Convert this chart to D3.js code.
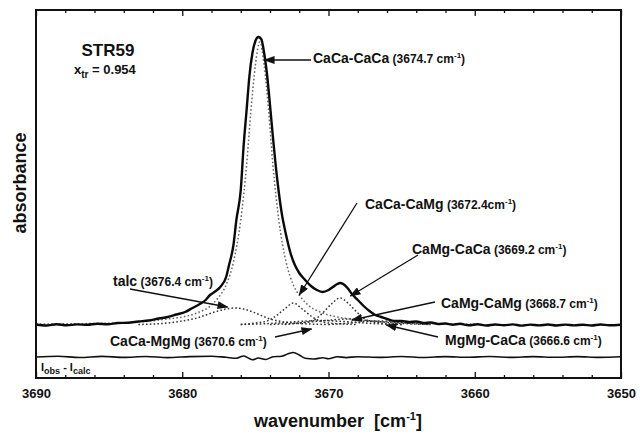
<!DOCTYPE html>
<html>
<head>
<meta charset="utf-8">
<script src="https://cdn.jsdelivr.net/npm/d3@7"></script>
<style>
  html, body { margin: 0; padding: 0; background: #fff; }
  svg { display: block; }
  text { font-family: "Liberation Sans", Arial, Helvetica, sans-serif; font-weight: bold; fill: #111; }
</style>
</head>
<body>
<svg id="chart" width="640" height="434"></svg>
<script>
// ---- data ---------------------------------------------------------------
const majorTicks = [3690, 3680, 3670, 3660, 3650];
const minorTicks = [3688, 3686, 3684, 3682, 3678, 3676, 3674, 3672, 3668, 3666, 3664, 3662, 3658, 3656, 3654, 3652];

const sampleName = "STR59";
const xTremolite = "0.954";

// observed OH-stretching spectrum [wavenumber, absorbance]
const observed = [
  [3690, 0.0005], [3689.3, -0.0005], [3688.6, 0.0008], [3687.9, -0.0003], [3687.2, 0.0006],
  [3686.5, 0.0002], [3685.8, 0.0012], [3685.1, 0.0008], [3684.4, 0.002], [3683.7, 0.0022],
  [3683, 0.0035], [3682.3, 0.0045], [3681.6, 0.0065], [3681, 0.008], [3680.4, 0.0105],
  [3679.8, 0.013], [3679.3, 0.017], [3678.8, 0.021], [3678.4, 0.025], [3678.1, 0.030],
  [3677.8, 0.033], [3677.4, 0.038], [3677, 0.048], [3676.8, 0.060], [3676.5, 0.080],
  [3676.3, 0.105], [3676, 0.135], [3675.8, 0.180], [3675.6, 0.215], [3675.4, 0.250],
  [3675.2, 0.272], [3675, 0.284], [3674.8, 0.288], [3674.6, 0.286], [3674.4, 0.272],
  [3674.2, 0.250], [3674, 0.220], [3673.8, 0.188], [3673.5, 0.145], [3673.2, 0.112],
  [3672.9, 0.090], [3672.6, 0.072], [3672.3, 0.060], [3672, 0.052], [3671.6, 0.045],
  [3671.2, 0.039], [3670.8, 0.035], [3670.4, 0.033], [3670, 0.035], [3669.7, 0.038],
  [3669.4, 0.041], [3669.2, 0.042], [3669, 0.041], [3668.7, 0.037], [3668.4, 0.031],
  [3668, 0.025], [3667.6, 0.019], [3667.2, 0.014], [3666.8, 0.010], [3666.4, 0.008],
  [3666, 0.006], [3665.5, 0.004], [3665, 0.004], [3664.5, 0.003], [3664, 0.0035],
  [3663.5, 0.002], [3663, 0.0025], [3662.5, 0.001], [3662, 0.0015], [3661.5, 0.0003],
  [3661, 0.0012], [3660.4, -0.0003], [3659.8, 0.0008], [3659.2, -0.0005], [3658.6, 0.0005],
  [3658, -0.0003], [3657.4, 0.0006], [3656.8, -0.0006], [3656.2, 0.0004], [3655.6, -0.0004],
  [3655, 0.0005], [3654.4, -0.0005], [3653.8, 0.0004], [3653.2, -0.0004], [3652.6, 0.0003],
  [3652, -0.0005], [3651.4, 0.0005], [3650.8, -0.0003], [3650, 0.0003]
];

// fitted component bands
const bandNames   = ["CaCa-CaCa", "talc", "CaCa-CaMg", "CaMg-CaCa", "CaMg-CaMg", "CaCa-MgMg", "MgMg-CaCa"];
const bandCenters = [3674.7, 3676.4, 3672.4, 3669.2, 3668.7, 3670.6, 3666.6];

const bandCaCaCaCa = [
  [3690, 0.001], [3686, 0.0015], [3683, 0.003], [3681, 0.006], [3680, 0.008], [3679, 0.012],
  [3678, 0.020], [3677.5, 0.028], [3677, 0.040], [3676.5, 0.063], [3676, 0.105], [3675.6, 0.160],
  [3675.3, 0.215], [3675, 0.260], [3674.7, 0.283], [3674.4, 0.260], [3674.1, 0.215], [3673.8, 0.160],
  [3673.4, 0.105], [3672.9, 0.063], [3672.4, 0.040], [3671.9, 0.028], [3671.4, 0.020], [3670.4, 0.012],
  [3669.4, 0.008], [3668, 0.005], [3666, 0.003], [3663, 0.0015], [3660, 0.001]
];
const bandTalc = [
  [3683, 0.0005], [3682, 0.001], [3681, 0.002], [3680, 0.004], [3679, 0.007], [3678, 0.012],
  [3677, 0.016], [3676.4, 0.017], [3675.8, 0.016], [3675, 0.012], [3674, 0.006], [3673, 0.003],
  [3672, 0.0015], [3670, 0.0005]
];
const bandCaCaCaMg = [
  [3676, 0.0005], [3675, 0.002], [3674.2, 0.004], [3673.6, 0.009], [3673, 0.016], [3672.4, 0.022],
  [3671.8, 0.016], [3671.2, 0.009], [3670.6, 0.004], [3670, 0.002], [3668, 0.0005]
];
const bandCaMgCaCa = [
  [3673, 0.0005], [3672, 0.002], [3671, 0.005], [3670.4, 0.012], [3669.8, 0.021], [3669.2, 0.027],
  [3668.6, 0.021], [3668, 0.012], [3667.4, 0.005], [3666.4, 0.002], [3665, 0.0005]
];
const bandCaMgCaMg = [
  [3674, 0.0005], [3672, 0.002], [3670.5, 0.004], [3668.7, 0.006], [3667, 0.004], [3665.5, 0.002], [3663, 0.0005]
];
const bandCaCaMgMg = [
  [3676, 0.0005], [3674, 0.0015], [3672, 0.0035], [3670.6, 0.0045], [3669, 0.0035], [3667, 0.0015], [3665, 0.0005]
];
const bandMgMgCaCa = [
  [3670, 0.0005], [3668.5, 0.002], [3667.5, 0.0035], [3666.6, 0.004], [3665.7, 0.0035], [3664.7, 0.002], [3663, 0.0005]
];
const bandCurves = [bandCaCaCaCa, bandTalc, bandCaCaCaMg, bandCaMgCaCa, bandCaMgCaMg, bandCaCaMgMg, bandMgMgCaCa];

// observed minus calculated
const residual = [
  [3690, 0], [3688.5, 0.0008], [3687, -0.0005], [3685.5, 0.0006], [3684, -0.0004], [3682.5, 0.0005],
  [3681, -0.0006], [3679.5, 0.0004], [3678, 0.0008], [3677, -0.0003], [3676.3, -0.0012], [3675.8, 0.001],
  [3675.2, -0.0028], [3674.8, -0.001], [3674.3, -0.0025], [3673.8, 0.0002], [3673.2, 0.0008], [3672.8, 0.003],
  [3672.4, 0.0045], [3672, 0.002], [3671.6, -0.0012], [3671, -0.002], [3670.4, -0.0008], [3670, -0.0018],
  [3669.4, 0.0003], [3668.8, -0.0006], [3668, 0.0003], [3666.5, -0.0004], [3665, 0.0005], [3663.5, -0.0005],
  [3662, 0.0004], [3660.5, -0.0003], [3659, 0.0005], [3657.5, -0.0004], [3656, 0.0004], [3654.5, -0.0003],
  [3653, 0.0004], [3651.5, -0.0004], [3650, 0.0002]
];
const residualOffset = -0.032;

// ---- layout -------------------------------------------------------------
const frame = { left: 36, right: 621, top: 10, bottom: 378 };
const svg = d3.select("#chart");

const x = d3.scaleLinear().domain([3690, 3650]).range([frame.left, frame.right]);
const y = d3.scaleLinear().domain([-0.053, 0.315]).range([frame.bottom, frame.top]);

const line = d3.line()
  .x(d => x(d[0]))
  .y(d => y(d[1]))
  .curve(d3.curveMonotoneX);

// arrowhead
svg.append("defs").append("marker")
  .attr("id", "head")
  .attr("markerUnits", "userSpaceOnUse")
  .attr("markerWidth", 11).attr("markerHeight", 8)
  .attr("refX", 10).attr("refY", 4)
  .attr("orient", "auto")
  .append("path").attr("d", "M0,0 L11,4 L0,8 Z").attr("fill", "#111");

// component bands (dotted)
svg.append("g").selectAll("path")
  .data(bandCurves)
  .join("path")
  .attr("d", line)
  .attr("fill", "none")
  .attr("stroke", (d, i) => i === 0 ? "#666" : "#333")
  .attr("stroke-width", 1.5)
  .attr("stroke-dasharray", "1.6,2.2");

// residual trace
svg.append("path")
  .datum(residual.map(d => [d[0], d[1] + residualOffset]))
  .attr("d", line)
  .attr("fill", "none")
  .attr("stroke", "#111")
  .attr("stroke-width", 1.6);

// observed spectrum
svg.append("path")
  .datum(observed)
  .attr("d", line)
  .attr("fill", "none")
  .attr("stroke", "#0a0a0a")
  .attr("stroke-width", 2.4)
  .attr("stroke-linejoin", "round");

// frame
svg.append("rect")
  .attr("x", frame.left).attr("y", frame.top)
  .attr("width", frame.right - frame.left).attr("height", frame.bottom - frame.top)
  .attr("fill", "none").attr("stroke", "#111").attr("stroke-width", 2);

// axes: inward ticks on bottom and top
function styleAxis(g) {
  g.select(".domain").remove();
  g.selectAll(".tick line").attr("stroke", "#111").attr("stroke-width", 1.3);
}
svg.append("g")
  .attr("transform", `translate(0,${frame.bottom})`)
  .call(d3.axisBottom(x).tickValues(majorTicks).tickSize(-6).tickPadding(11).tickFormat(d3.format("d")))
  .call(styleAxis)
  .call(g => g.selectAll("text")
    .attr("font-size", 13).attr("font-weight", "bold")
    .attr("font-family", '"Liberation Sans", Arial, sans-serif').attr("fill", "#111"));
svg.append("g")
  .attr("transform", `translate(0,${frame.bottom})`)
  .call(d3.axisBottom(x).tickValues(minorTicks).tickSize(-3).tickFormat(""))
  .call(styleAxis);
svg.append("g")
  .attr("transform", `translate(0,${frame.top})`)
  .call(d3.axisTop(x).tickValues(majorTicks).tickSize(-6).tickFormat(""))
  .call(styleAxis);
svg.append("g")
  .attr("transform", `translate(0,${frame.top})`)
  .call(d3.axisTop(x).tickValues(minorTicks).tickSize(-3).tickFormat(""))
  .call(styleAxis);

// axis titles
const xt = svg.append("text")
  .attr("x", 338).attr("y", 427)
  .attr("text-anchor", "middle").attr("font-size", 18);
xt.append("tspan").text("wavenumber\u00a0\u00a0[cm");
xt.append("tspan").attr("dy", -7).attr("font-size", 11).text("-1");
xt.append("tspan").attr("dy", 7).text("]");

svg.append("text")
  .attr("transform", "translate(26,183) rotate(-90)")
  .attr("text-anchor", "middle").attr("font-size", 18)
  .text("absorbance");

// sample tag
svg.append("text")
  .attr("x", 108).attr("y", 56)
  .attr("text-anchor", "middle").attr("font-size", 17)
  .text(sampleName);
const xtr = svg.append("text").attr("x", 74).attr("y", 74).attr("font-size", 13);
xtr.append("tspan").text("x");
xtr.append("tspan").attr("dy", 4).attr("font-size", 10).text("tr");
xtr.append("tspan").attr("dy", -4).text(" = " + xTremolite);

// residual tag
const rt = svg.append("text").attr("x", 41).attr("y", 371).attr("font-size", 11).attr("font-weight", "normal");
rt.append("tspan").text("I");
rt.append("tspan").attr("dy", 3).attr("font-size", 9).text("obs");
rt.append("tspan").attr("dy", -3).text(" - I");
rt.append("tspan").attr("dy", 3).attr("font-size", 9).text("calc");

// band annotations: label anchor (px), arrow tail (px), arrow tip (data)
const annot = [
  { text: [313, 63], tail: [311, 60], tip: [3674.37, 0.265], gap: " " },
  { text: [113, 286], tail: [130, 289], tip: [3676.9, 0.018], gap: " " },
  { text: [365, 209], tail: [357, 203], tip: [3672.0, 0.030], gap: "" },
  { text: [412, 254], tail: [418, 255], tip: [3668.5, 0.029], gap: " " },
  { text: [441, 308], tail: [435, 302], tip: [3668.4, 0.005], gap: " " },
  { text: [110, 346], tail: [275, 337], tip: [3671.16, -0.004], gap: " " },
  { text: [445, 345], tail: [438, 337], tip: [3666.04, 0.0], gap: " " }
];

annot.forEach((a, i) => {
  svg.append("line")
    .attr("x1", a.tail[0]).attr("y1", a.tail[1])
    .attr("x2", x(a.tip[0])).attr("y2", y(a.tip[1]))
    .attr("stroke", "#111").attr("stroke-width", 1.3)
    .attr("marker-end", "url(#head)");
  const t = svg.append("text").attr("x", a.text[0]).attr("y", a.text[1]).attr("font-size", 14);
  t.append("tspan").text(bandNames[i]);
  t.append("tspan").attr("font-size", 12).text(" (" + bandCenters[i].toFixed(1) + a.gap + "cm");
  t.append("tspan").attr("font-size", 8).attr("dy", -5).text("-1");
  t.append("tspan").attr("font-size", 12).attr("dy", 5).text(")");
});
</script>
</body>
</html>
